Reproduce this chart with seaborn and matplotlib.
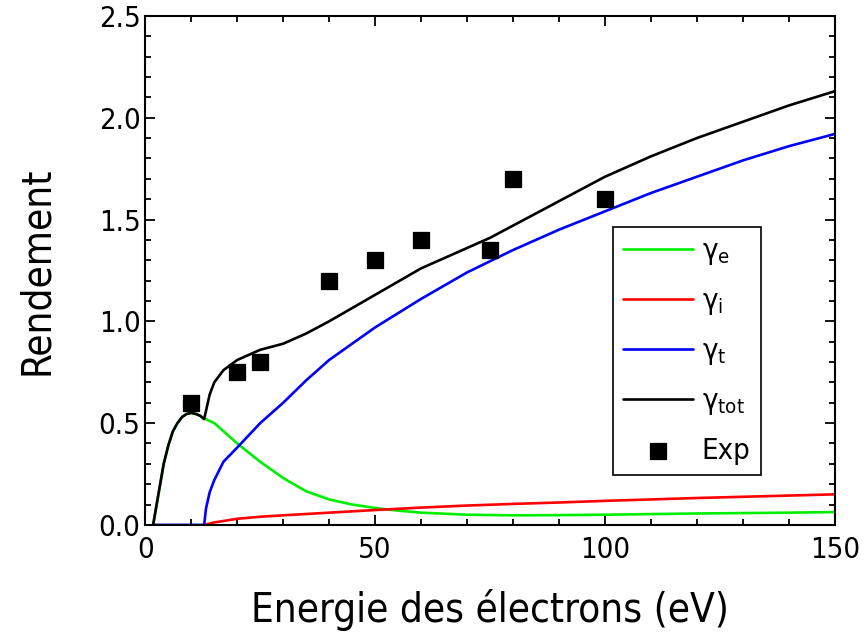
import matplotlib
matplotlib.use("Agg")
import matplotlib.pyplot as plt
import seaborn as sns
import pandas as pd

# Donnees
x_tot = [1.7, 3, 4, 5, 6, 7, 8, 9, 10, 11, 12, 12.8, 13.2, 14, 15, 17, 20, 25, 30, 35,
         40, 50, 60, 70, 75, 80, 90, 100, 110, 120, 130, 140, 150]
y_tot = [0, 0.17, 0.30, 0.39, 0.46, 0.50, 0.53, 0.545, 0.55, 0.545, 0.535, 0.52, 0.56, 0.64,
         0.70, 0.76, 0.81, 0.86, 0.89, 0.94, 1.0, 1.13, 1.26, 1.36, 1.41, 1.47, 1.59, 1.71,
         1.81, 1.90, 1.98, 2.06, 2.13]

x_e = [1.7, 3, 4, 5, 6, 7, 8, 9, 10, 11, 12, 12.8, 13.2, 14, 15, 17, 20, 25, 30, 35, 40,
       45, 50, 55, 60, 70, 80, 90, 100, 110, 120, 130, 140, 150]
y_e = [0, 0.17, 0.30, 0.39, 0.46, 0.50, 0.53, 0.545, 0.55, 0.545, 0.535, 0.52, 0.52, 0.51,
       0.50, 0.46, 0.40, 0.31, 0.23, 0.165, 0.125, 0.10, 0.083, 0.07, 0.06, 0.05, 0.047,
       0.048, 0.05, 0.053, 0.056, 0.058, 0.06, 0.063]

x_i = [12.8, 15, 20, 25, 30, 40, 50, 60, 70, 80, 90, 100, 110, 120, 130, 140, 150]
y_i = [0, 0.012, 0.03, 0.04, 0.047, 0.06, 0.073, 0.085, 0.095, 0.103, 0.11, 0.118, 0.125,
       0.132, 0.138, 0.144, 0.15]

x_t = [1.7, 12.8, 13.2, 14, 15, 17, 20, 25, 30, 35, 40, 50, 60, 70, 80, 90, 100, 110, 120,
       130, 140, 150]
y_t = [0, 0, 0.08, 0.16, 0.22, 0.31, 0.38, 0.50, 0.60, 0.71, 0.81, 0.97, 1.11, 1.24, 1.35,
       1.45, 1.54, 1.63, 1.71, 1.79, 1.86, 1.92]

x_exp = [10, 20, 25, 40, 50, 60, 75, 80, 100]
y_exp = [0.6, 0.75, 0.8, 1.2, 1.3, 1.4, 1.35, 1.7, 1.6]

sns.set_style("ticks")
plt.rcParams['font.family'] = ['DejaVu Sans']
plt.rcParams['font.stretch'] = 'condensed'
plt.rcParams['mathtext.fontset'] = 'dejavusans'
# texte en noir (seaborn met du gris fonce par defaut)
for k in ['text.color', 'axes.labelcolor', 'xtick.color', 'ytick.color',
          'xtick.labelcolor', 'ytick.labelcolor']:
    plt.rcParams[k] = 'black'

fig = plt.figure(figsize=(8.65, 6.37), dpi=100)
ax = fig.add_axes([0.168, 0.176, 0.797, 0.799])

sns.lineplot(x=x_e, y=y_e, color='#00ee00', lw=1.9, ax=ax, label='γ$_\\mathregular{e}$')
sns.lineplot(x=x_i, y=y_i, color='#ff0000', lw=1.9, ax=ax, label='γ$_\\mathregular{i}$')
sns.lineplot(x=x_t, y=y_t, color='#0000ff', lw=1.9, ax=ax, label='γ$_\\mathregular{t}$')
sns.lineplot(x=x_tot, y=y_tot, color='black', lw=1.9, ax=ax, label='γ$_\\mathregular{tot}$')
sns.scatterplot(x=x_exp, y=y_exp, marker='s', s=130, color='black', edgecolor='black',
                ax=ax, label='Exp', zorder=5)

ax.set_xlim(0, 150)
ax.set_ylim(0, 2.5)
ax.set_xticks([0, 50, 100, 150])
ax.set_xticks(range(0, 151, 10), minor=True)
ax.set_yticks([0, 0.5, 1.0, 1.5, 2.0, 2.5])
ax.set_yticks([i / 10 for i in range(26)], minor=True)
ax.set_yticklabels(['0.0', '0.5', '1.0', '1.5', '2.0', '2.5'])
ax.tick_params(which='both', direction='in', top=True, right=True, width=1.3,
               labelsize=21, colors='black')
ax.tick_params(which='major', length=7)
ax.tick_params(which='minor', length=4)
ax.tick_params(axis='x', pad=8)
for sp in ax.spines.values():
    sp.set_linewidth(1.5)
    sp.set_color('black')

ax.set_xlabel('Energie des électrons (eV)', fontsize=29, labelpad=18)
ax.set_ylabel('Rendement', fontsize=29, labelpad=30)

leg = ax.legend(loc='lower left', bbox_to_anchor=(0.678, 0.098), fontsize=21,
                frameon=True, fancybox=False, edgecolor='black', framealpha=1,
                labelspacing=0.68, handlelength=2.4, handletextpad=0.3,
                borderpad=0.35, borderaxespad=0)
leg.get_frame().set_linewidth(1.2)

fig.savefig('out.png', dpi=100)
